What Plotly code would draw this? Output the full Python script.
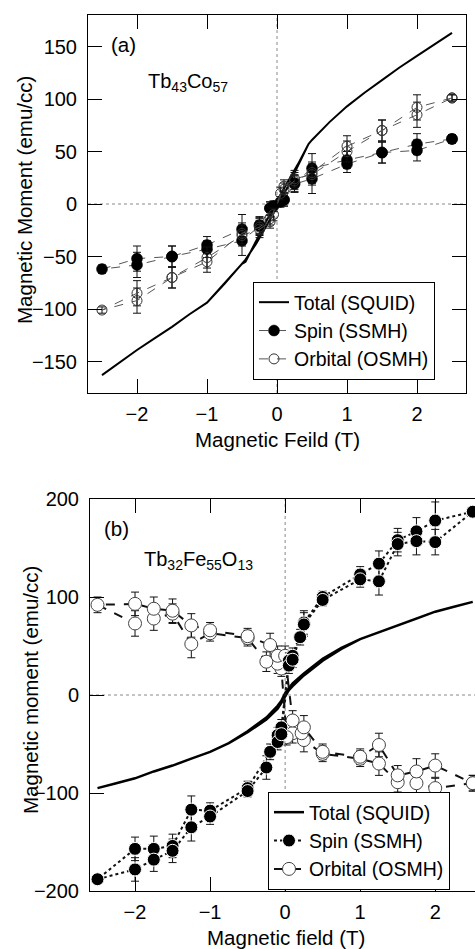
import plotly.graph_objects as go

W, H = 475, 949

# ---------------- Panel (a): Tb43Co57 ----------------
tot_a_field_down = [2.5, 2.25, 2.0, 1.75, 1.5, 1.25, 1.0, 0.75, 0.5, 0.45, 0.3, 0.15, 0.0,
                    -0.15, -0.3, -0.45, -0.5, -0.75, -1.0, -1.25, -1.5, -1.75, -2.0, -2.25, -2.5]
tot_a_down = [163, 152, 141, 130, 118, 106, 93, 78, 61, 57, 38, 21, 3,
              -16, -36, -55, -57, -76, -94, -105, -117, -128, -139, -151, -163]
tot_a_field_up = [-2.5, -2.25, -2.0, -1.75, -1.5, -1.25, -1.0, -0.75, -0.5, -0.45, -0.3, -0.15, 0.0,
                  0.15, 0.3, 0.45, 0.5, 0.75, 1.0, 1.25, 1.5, 1.75, 2.0, 2.25, 2.5]
tot_a_up = [-163, -151, -139, -128, -117, -105, -94, -76, -57, -53, -38, -21, -3,
            16, 36, 57, 61, 78, 93, 106, 118, 130, 141, 152, 163]

spin_a_field = [2.5, 2.0, 1.5, 1.0, 0.5, 0.25, 0.1, 0.05, -0.1, -0.25, -0.5, -1.0, -1.5, -2.0, -2.5,
                -2.0, -1.5, -1.0, -0.5, -0.25, -0.1, -0.05, 0.1, 0.25, 0.5, 1.0, 1.5, 2.0, 2.5]
spin_a = [62, 57, 49, 42, 34, 20, 4, 2, -4, -20, -24, -39, -50, -52, -62,
          -58, -50, -43, -35, -21, -4, -2, 4, 19, 24, 38, 49, 51, 62]
spin_a_err = [4, 10, 10, 8, 14, 8, 6, 5, 6, 8, 14, 8, 10, 12, 4,
              12, 10, 8, 14, 8, 6, 5, 6, 8, 14, 8, 10, 10, 4]

orb_a_field = [2.5, 2.0, 1.5, 1.0, 0.5, 0.25, 0.1, 0.05, -0.1, -0.25, -0.5, -1.0, -1.5, -2.0, -2.5,
               -2.0, -1.5, -1.0, -0.5, -0.25, -0.1, -0.05, 0.1, 0.25, 0.5, 1.0, 1.5, 2.0, 2.5]
orb_a = [101, 92, 70, 55, 30, 22, 14, 10, -17, -24, -30, -51, -70, -85, -101,
         -92, -70, -55, -28, -22, -14, -10, 17, 24, 28, 50, 70, 85, 101]
orb_a_err = [3, 12, 10, 10, 10, 8, 6, 6, 6, 8, 10, 10, 10, 12, 3,
             12, 10, 10, 10, 8, 6, 6, 6, 8, 10, 10, 10, 12, 3]

# ---------------- Panel (b): Tb32Fe55O13 ----------------
tot_b_field_down = [2.5, 2.25, 2.0, 1.75, 1.5, 1.25, 1.0, 0.75, 0.5, 0.25, 0.1, 0.05, 0.0,
                    -0.05, -0.1, -0.25, -0.5, -0.75, -1.0, -1.25, -1.5, -1.75, -2.0, -2.25, -2.5]
tot_b_down = [95, 90, 85, 78, 71, 64, 57, 48, 37, 22, 12, 7, 2,
              -6, -11, -23, -37, -49, -58, -65, -72, -78, -85, -90, -95]
tot_b_field_up = [-2.5, -2.25, -2.0, -1.75, -1.5, -1.25, -1.0, -0.75, -0.5, -0.25, -0.1, -0.05, 0.0,
                  0.05, 0.1, 0.25, 0.5, 0.75, 1.0, 1.25, 1.5, 1.75, 2.0, 2.25, 2.5]
tot_b_up = [-95, -90, -85, -78, -72, -65, -58, -49, -38, -25, -14, -8, -2,
            5, 9, 20, 35, 47, 57, 64, 71, 78, 85, 90, 95]

spin_b_field = [2.5, 2.0, 1.75, 1.5, 1.25, 1.0, 0.5, 0.25, 0.1, 0.05, -0.05, -0.1, -0.2, -0.5,
                -1.0, -1.25, -1.5, -1.75, -2.0, -2.5,
                -2.0, -1.75, -1.5, -1.25, -1.0, -0.5, -0.25, -0.1, -0.05, 0.05, 0.1, 0.2, 0.25,
                0.5, 1.0, 1.25, 1.5, 1.75, 2.0, 2.5]
spin_b = [187, 178, 167, 158, 134, 123, 100, 74, 40, 35, -33, -41, -58, -95,
          -118, -117, -154, -157, -157, -188,
          -178, -168, -159, -135, -124, -98, -74, -48, -40, 30, 36, 59, 72,
          97, 118, 116, 154, 157, 156, 187]
spin_b_err = [4, 19, 14, 12, 13, 8, 6, 12, 8, 8, 8, 8, 8, 7,
              8, 14, 12, 13, 12, 4,
              12, 12, 12, 14, 8, 6, 12, 8, 8, 8, 8, 8, 12,
              6, 8, 14, 12, 14, 13, 4]

orb_b_field = [2.5, 2.0, 1.75, 1.5, 1.25, 1.0, 0.5, 0.25, 0.1, 0.02, -0.05, -0.1, -0.25, -0.5,
               -1.0, -1.25, -1.5, -1.75, -2.0, -2.5,
               -2.0, -1.75, -1.5, -1.25, -1.0, -0.5, -0.2, -0.1, 0.0, 0.1, 0.22, 0.25,
               0.5, 1.0, 1.25, 1.5, 1.75, 2.0, 2.5]
orb_b = [-90, -95, -90, -89, -70, -65, -60, -46, -39, -43, 27, 32, 34, 58,
         63, 52, 83, 78, 73, 92,
         93, 88, 86, 71, 66, 60, 51, 40, 40, -26, -39, -33,
         -58, -63, -51, -82, -78, -72, -90]
orb_b_err = [8, 10, 12, 10, 12, 8, 8, 12, 10, 8, 8, 10, 10, 8,
             8, 14, 10, 12, 13, 8,
             12, 12, 12, 12, 8, 8, 12, 10, 10, 10, 10, 12,
             8, 8, 12, 10, 13, 12, 8]

x_ticks = [-2, -1, 0, 1, 2]
y_ticks_a = [-150, -100, -50, 0, 50, 100, 150]
y_ticks_b = [-200, -100, 0, 100, 200]

FONT = "Liberation Sans, Arial, sans-serif"
FS_TICK = 20
FS_TITLE = 20.5
FS_LEG = 19.5


def px(x):
    return x / W


def py(y):
    return 1 - y / H


err_style = dict(type="data", visible=True, color="#111", thickness=1, width=4)

fig = go.Figure()

# ---- Panel (a) traces ----
fig.add_trace(go.Scatter(
    x=tot_a_field_down + tot_a_field_up, y=tot_a_down + tot_a_up,
    mode="lines", line=dict(color="black", width=2),
    name="Total (SQUID)", xaxis="x", yaxis="y", legend="legend", legendrank=1))
fig.add_trace(go.Scatter(
    x=spin_a_field, y=spin_a, error_y=dict(array=spin_a_err, **err_style),
    mode="lines+markers", line=dict(color="#555", width=1, dash="dash"),
    marker=dict(symbol="circle", size=11, color="black", line=dict(color="black", width=0.5)),
    name="Spin (SSMH)", xaxis="x", yaxis="y", legend="legend", legendrank=2))
fig.add_trace(go.Scatter(
    x=orb_a_field, y=orb_a, error_y=dict(array=orb_a_err, **err_style),
    mode="lines+markers", line=dict(color="#555", width=1, dash="dash"),
    marker=dict(symbol="circle-open", size=10, color="#333", line=dict(width=1)),
    name="Orbital (OSMH)", xaxis="x", yaxis="y", legend="legend", legendrank=3))

# ---- Panel (b) traces ----
fig.add_trace(go.Scatter(
    x=tot_b_field_down + tot_b_field_up, y=tot_b_down + tot_b_up,
    mode="lines", line=dict(color="black", width=2.5),
    name="Total (SQUID)", xaxis="x2", yaxis="y2", legend="legend2", legendrank=1))
fig.add_trace(go.Scatter(
    x=orb_b_field, y=orb_b, error_y=dict(array=orb_b_err, **err_style),
    mode="lines+markers", line=dict(color="#111", width=2, dash="dash"),
    marker=dict(symbol="circle", size=13, color="white", line=dict(color="#444", width=1)),
    name="Orbital (OSMH)", xaxis="x2", yaxis="y2", legend="legend2", legendrank=3))
fig.add_trace(go.Scatter(
    x=spin_b_field, y=spin_b, error_y=dict(array=spin_b_err, **err_style),
    mode="lines+markers", line=dict(color="#111", width=2, dash="dot"),
    marker=dict(symbol="circle", size=13, color="black", line=dict(color="white", width=1)),
    name="Spin (SSMH)", xaxis="x2", yaxis="y2", legend="legend2", legendrank=2))

axis_common = dict(
    showgrid=False, zeroline=False, showline=True, linecolor="black", linewidth=1,
    ticks="inside", ticklen=14, tickcolor="black", tickwidth=1,
    tickfont=dict(family=FONT, size=FS_TICK, color="black"),
    automargin=False,
)

fig.update_layout(
    width=W, height=H,
    margin=dict(l=0, r=0, t=0, b=0, autoexpand=False),
    paper_bgcolor="white", plot_bgcolor="white",
    font=dict(family=FONT, size=FS_TICK, color="black"),
    xaxis=dict(domain=[px(88), px(466)], anchor="y", range=[-2.7, 2.7],
               tickvals=x_ticks, mirror="ticks", ticklabelstandoff=3, **axis_common),
    yaxis=dict(domain=[py(393), py(15)], anchor="x", range=[-180, 180],
               tickvals=y_ticks_a, mirror="ticks", ticklabelstandoff=6, **axis_common),
    xaxis2=dict(domain=[px(90), 1.0], anchor="y2", range=[-2.6, 2.53],
                tickvals=x_ticks, mirror="ticks", ticklabelstandoff=3, **axis_common),
    yaxis2=dict(domain=[py(891), py(499)], anchor="x2", range=[-200, 200],
                tickvals=y_ticks_b, mirror=False, ticklabelstandoff=6, **axis_common),
    legend=dict(x=px(253), y=py(331), xanchor="left", yanchor="middle",
                bgcolor="white", bordercolor="black", borderwidth=1,
                font=dict(family=FONT, size=FS_LEG), tracegroupgap=0,
                traceorder="normal"),
    legend2=dict(x=px(268), y=py(841), xanchor="left", yanchor="middle",
                 bgcolor="white", bordercolor="black", borderwidth=1,
                 font=dict(family=FONT, size=FS_LEG), tracegroupgap=0,
                 traceorder="normal"),
    showlegend=True,
)

# dotted zero lines
dot = dict(color="#888", width=1, dash="dot")
shapes = [
    dict(type="line", xref="x", yref="y domain", x0=0, x1=0, y0=0, y1=1, line=dot, layer="below"),
    dict(type="line", xref="x domain", yref="y", x0=0, x1=1, y0=0, y1=0, line=dot, layer="below"),
    dict(type="line", xref="x2", yref="y2 domain", x0=0, x1=0, y0=0, y1=1, line=dot, layer="below"),
    dict(type="line", xref="x2 domain", yref="y2", x0=0, x1=1, y0=0, y1=0, line=dot, layer="below"),
]
fig.update_layout(shapes=shapes)

ann = [
    dict(text="(a)", x=px(109), y=py(45), xanchor="left", yanchor="middle", size=FS_TITLE),
    dict(text="Tb<sub>43</sub>Co<sub>57</sub>", x=px(146), y=py(82), xanchor="left",
         yanchor="middle", size=FS_TICK),
    dict(text="(b)", x=px(102), y=py(528), xanchor="left", yanchor="middle", size=FS_TITLE),
    dict(text="Tb<sub>32</sub>Fe<sub>55</sub>O<sub>13</sub>", x=px(142), y=py(560),
         xanchor="left", yanchor="middle", size=FS_TICK),
    dict(text="Magnetic Moment (emu/cc)", x=px(25), y=py(200), textangle=-90,
         xanchor="center", yanchor="middle", size=FS_TITLE),
    dict(text="Magnetic Feild (T)", x=px(277), y=py(439), xanchor="center",
         yanchor="middle", size=FS_TITLE),
    dict(text="Magnetic moment (emu/cc)", x=px(30), y=py(690), textangle=-90,
         xanchor="center", yanchor="middle", size=FS_TITLE),
    dict(text="Magnetic field (T)", x=px(286), y=py(937), xanchor="center",
         yanchor="middle", size=FS_TITLE),
]
for a in ann:
    s = a.pop("size")
    a.update(xref="paper", yref="paper", showarrow=False,
             font=dict(family=FONT, size=s, color="black"))
fig.update_layout(annotations=ann)

fig.write_html(
    "out.html",
    config={"displayModeBar": False},
    post_script="document.body.style.margin='0px';document.body.style.overflow='hidden';",
)
